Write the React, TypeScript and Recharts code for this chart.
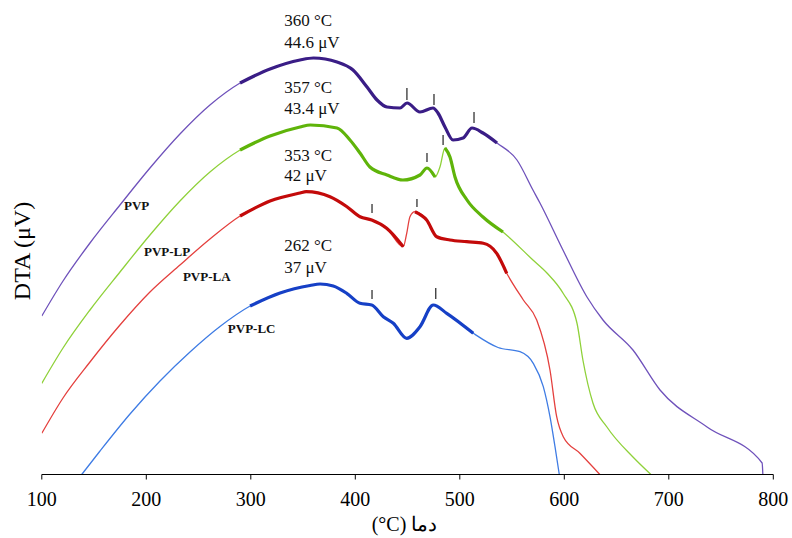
import { LineChart, Line, XAxis, YAxis, ReferenceLine, ReferenceDot } from 'recharts'

type Pt = [number, number]

// temperature (°C) vs DTA signal (arbitrary units)
const pvp: Pt[] = [
  [100, 158.5], [120.3, 193.5], [146.1, 231.5], [174.8, 269.5], [203.5, 306.5], [232.2, 340.5],
  [260.9, 369.5], [289.7, 391.5], [318.4, 405.5], [347.1, 414.5], [360, 416.5], [382.5, 412.5],
  [397.8, 404.5], [411.2, 387.5], [420.8, 374.5], [430.3, 367.5], [442.8, 366.5], [449.5, 371.5],
  [461.9, 362.5], [474.4, 366.5], [479.1, 361.5], [485.8, 347.5], [493.5, 334.5], [503.1, 336.5],
  [511.7, 346.5], [522.2, 341.5], [535.6, 331.5], [554.7, 314.5], [570, 284.5], [576.7, 271.5],
  [598.7, 224.5], [621.7, 177.5], [637, 154.5], [665.7, 124.5], [691.6, 84.5], [736.6, 47.5],
  [789.3, 11.5], [790, 0],
]

const pvpLP: Pt[] = [
  [100, 91.2], [120.3, 126.5], [146.1, 164.5], [174.8, 202.5], [203.5, 239.5], [232.2, 273.5],
  [260.9, 302.5], [289.7, 324.5], [318.4, 338.5], [347.1, 347.5], [357, 349.5], [382.5, 346.5],
  [394.9, 334.5], [404.5, 321.5], [414, 307.5], [430.3, 299.5], [445.6, 294.5], [461.9, 299.5],
  [468.6, 306.5], [476.3, 297.5], [481, 307.5], [485.8, 326.5], [490.6, 317.5], [495.4, 297.5],
  [506.9, 274.5], [522.2, 257.5], [541.3, 242.5], [570, 214.5], [583.4, 201.5], [598.7, 181.5],
  [612.1, 151.5], [617.8, 114.5], [627.4, 71.5], [640.8, 47.5], [665.7, 17.5], [682.9, 0],
]

const pvpLA: Pt[] = [
  [100, 41.2], [120.3, 76.5], [146.1, 112.5], [174.8, 149.5], [203.5, 182.5], [232.2, 209.5],
  [260.9, 235.5], [289.7, 258.5], [318.4, 273.5], [347.1, 281.5], [353, 282.8], [375.8, 277.8],
  [392, 267.8], [404.5, 257.8], [415.7, 254.5], [430, 246.2], [445.9, 227.8], [449.2, 241.2],
  [452.3, 257.8], [457.1, 262.8], [468.3, 254.5], [477.9, 237.8], [490.6, 234.5], [506.6, 232.8],
  [522.5, 231.2], [535.3, 221.2], [544.9, 201.2], [560.8, 174.5], [573.6, 154.5], [586.3, 104.5],
  [592.7, 57.8], [599, 37.8], [614.9, 21.2], [634, 0],
]

const pvpLC: Pt[] = [
  [138.2, 0], [155.7, 23.5], [184.4, 60.5], [213.1, 93.5], [241.8, 122.5], [270.5, 148],
  [299.3, 168.5], [328, 181.5], [356.7, 189], [366.3, 190.5], [378.9, 188.5], [391.8, 181.2],
  [404.5, 171.2], [415.7, 169.5], [426.8, 157.8], [436.4, 151.2], [449.2, 136.2], [461.9, 147.8],
  [474.6, 169.5], [487.5, 161.2], [512.9, 141.2], [536.6, 127], [557.6, 122.8], [570.3, 111.2],
  [579.9, 87.8], [586.3, 57.8], [591.1, 27.8], [595.2, 0],
]

// temperature ranges where the trace is noisy (drawn heavier)
const pvpNoisy: Pt[] = [[289, 536]]
const lpNoisy: Pt[] = [[289, 476.3], [485.8, 541.3]]
const laNoisy: Pt[] = [[289, 445.9], [457.1, 545]]
const lcNoisy: Pt[] = [[299, 513]]

// little peak markers: [temperature, bottom, top]
const markers: [number, number, number][] = [
  [449.4, 374.5, 386.5], [475.3, 369.5, 380.5], [513.6, 351.5, 362.5],
  [468.6, 312.5, 321.5], [484, 329.5, 339.5],
  [416, 261.5, 270.5], [459, 267.5, 275.5],
  [416, 175.5, 184.5], [477, 175.5, 186.5],
]

// peak annotations: [temperature, level, text]
const peakNotes: [number, number, string][] = [
  [332, 454.5, '360 °C'], [332, 432.5, '44.6 μV'],
  [332, 387.5, '357 °C'], [332, 366.5, '43.4 μV'],
  [332, 319.5, '353 °C'], [332, 299.5, '42 μV'],
  [332, 229.5, '262 °C'], [332, 207.5, '37 μV'],
]

const seriesNames: [number, number, string][] = [
  [178.7, 269.5, 'PVP'], [197.8, 223.5, 'PVP-LP'], [235, 198.5, 'PVP-LA'], [278, 146.5, 'PVP-LC'],
]

const xTicks = [100, 200, 300, 400, 500, 600, 700, 800]

const serif = '"Liberation Serif", "Times New Roman", "DejaVu Serif", serif'

const toRows = (pts: Pt[]) => pts.map(([t, v]) => ({ t, v }))
const slice = (pts: Pt[], lo: number, hi: number) => toRows(pts.filter(([t]) => t >= lo && t <= hi))

const series = [
  { key: 'pvp', pts: pvp, noisy: pvpNoisy, thin: '#6f52bb', thick: '#3a1d86' },
  { key: 'lp', pts: pvpLP, noisy: lpNoisy, thin: '#8fd13a', thick: '#5fb40a' },
  { key: 'la', pts: pvpLA, noisy: laNoisy, thin: '#e4403e', thick: '#c30a0a' },
  { key: 'lc', pts: pvpLC, noisy: lcNoisy, thin: '#3f7ce4', thick: '#1640c6' },
]

export default function App() {
  return (
    <div style={{ position: 'absolute', left: 0, top: 0, width: 792, height: 538 }}>
      <LineChart width={792} height={538} margin={{ top: 16, right: 18.7, bottom: 23.5, left: 41.8 }}>
        <XAxis
          type="number"
          dataKey="t"
          domain={[100, 800]}
          ticks={xTicks}
          allowDataOverflow
          height={40}
          tickSize={5}
          tickMargin={12}
          axisLine={{ stroke: '#000' }}
          tickLine={{ stroke: '#000' }}
          tick={{ fontSize: 20, fill: '#000', fontFamily: serif }}
          label={{
            content: (p: any) => (
              <text
                x={p.viewBox.x + p.viewBox.width / 2 - 3}
                y={p.viewBox.y + 49}
                textAnchor="middle"
                dominantBaseline="central"
                fontSize={20}
                fontFamily={serif}
                fill="#000"
              >
                (°C) دما
              </text>
            ),
          }}
        />
        <YAxis
          type="number"
          domain={[0, 458.5]}
          allowDataOverflow
          width={0}
          tick={false}
          tickLine={false}
          axisLine={{ stroke: '#000' }}
        />
        {series.map((s) => (
          <Line
            key={s.key}
            data={toRows(s.pts)}
            dataKey="v"
            type="monotone"
            stroke={s.thin}
            strokeWidth={1.3}
            dot={false}
            activeDot={false}
            isAnimationActive={false}
          />
        ))}
        {series.flatMap((s) =>
          s.noisy.map(([lo, hi], i) => (
            <Line
              key={`${s.key}-n${i}`}
              data={slice(s.pts, lo, hi)}
              dataKey="v"
              type="monotone"
              stroke={s.thick}
              strokeWidth={3.2}
              dot={false}
              activeDot={false}
              isAnimationActive={false}
            />
          ))
        )}
        {markers.map(([t, lo, hi], i) => (
          <ReferenceLine
            key={`m${i}`}
            segment={[{ x: t, y: lo }, { x: t, y: hi }]}
            stroke="#222"
            strokeWidth={1.2}
          />
        ))}
        {peakNotes.map(([t, v, txt], i) => (
          <ReferenceDot
            key={`p${i}`}
            x={t}
            y={v}
            r={1}
            shape={(p: any) => (
              <text x={p.cx} y={p.cy} dominantBaseline="central" fontSize={17} fontFamily={serif} fill="#111">
                {txt}
              </text>
            )}
          />
        ))}
        {seriesNames.map(([t, v, txt], i) => (
          <ReferenceDot
            key={`n${i}`}
            x={t}
            y={v}
            r={1}
            shape={(p: any) => (
              <text
                x={p.cx}
                y={p.cy}
                dominantBaseline="central"
                fontSize={13}
                fontWeight="bold"
                fontFamily={serif}
                fill="#111"
              >
                {txt}
              </text>
            )}
          />
        ))}
      </LineChart>
      <div
        style={{
          position: 'absolute',
          left: 22,
          top: 251,
          transform: 'translate(-50%, -50%) rotate(-90deg)',
          fontFamily: serif,
          fontSize: 24,
          lineHeight: 1,
          whiteSpace: 'nowrap',
          color: '#000',
        }}
      >
        DTA (μV)
      </div>
    </div>
  )
}
